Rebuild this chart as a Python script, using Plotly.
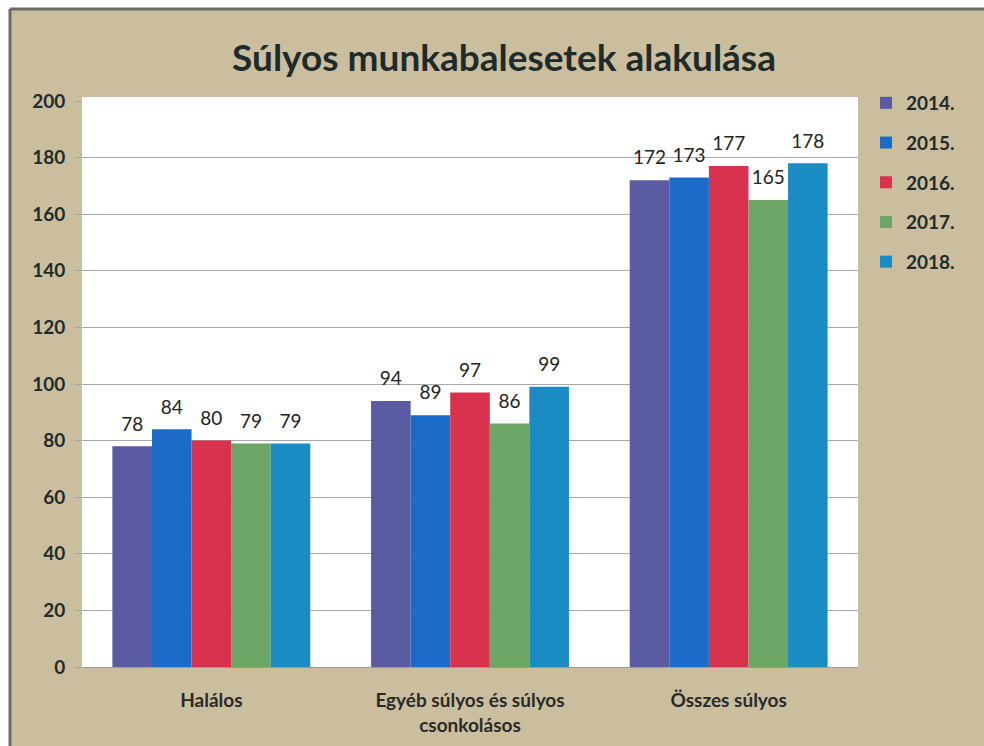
import plotly.graph_objects as go

categories = ["Halálos", "Egyéb súlyos és súlyos<br>csonkolásos", "Összes súlyos"]
years = ["2014.", "2015.", "2016.", "2017.", "2018."]
values = {
    "2014.": [78, 94, 172],
    "2015.": [84, 89, 173],
    "2016.": [80, 97, 177],
    "2017.": [79, 86, 165],
    "2018.": [79, 99, 178],
}
colors = ["#5b5ba3", "#1a6cc8", "#d8324e", "#6ba667", "#1a8cc3"]
yticks = [0, 20, 40, 60, 80, 100, 120, 140, 160, 180, 200]

FONT = "Lato"
GAP = 0.235
fig = go.Figure()
for i, y in enumerate(years):
    fig.add_trace(go.Bar(
        x=categories, y=values[y], name="<b>" + y + "</b>",
        marker=dict(color=colors[i], line=dict(width=0)),
        legendgroup=y,
    ))
for i, y in enumerate(years):
    fig.add_trace(go.Scatter(
        x=categories, y=values[y], mode="text+markers",
        marker=dict(size=16, opacity=0),
        text=[str(v) for v in values[y]], textposition="top center",
        textfont=dict(size=19, color="#222222", family=FONT),
        cliponaxis=False, showlegend=False, hoverinfo="skip",
    ))

L, R, T, B = 82, 858, 101, 667
pw, ph = R - L, B - T
def px(x):
    return (x - L) / pw
def py(y):
    return (B - y) / ph

fig.update_layout(
    width=984, height=746,
    margin=dict(l=L, r=984 - R, t=T, b=746 - B, autoexpand=False),
    paper_bgcolor="white", plot_bgcolor="rgba(0,0,0,0)",
    barmode="group", bargap=GAP, bargroupgap=0,
    scattermode="group", scattergap=GAP,
    title=dict(text="<b>Súlyos munkabalesetek alakulása</b>",
               font=dict(size=37, color="#1e2b2b", family=FONT),
               x=px(504), xanchor="center", y=1 - 58 / 746, yanchor="middle", xref="paper"),
    legend=dict(x=px(866), y=py(84), xanchor="left", yanchor="top",
                font=dict(size=19, color="#1e2b2b", family=FONT),
                bgcolor="rgba(0,0,0,0)", tracegroupgap=12, traceorder="grouped",
                itemwidth=30),
    shapes=[
        dict(type="rect", xref="paper", yref="paper", layer="below",
             x0=px(10), x1=px(984), y0=py(746), y1=py(9),
             fillcolor="#cbbe9f", line=dict(width=0)),
        dict(type="line", xref="paper", yref="paper", layer="below",
             x0=px(10), x1=px(984), y0=py(9), y1=py(9),
             line=dict(color="#6b6b66", width=3)),
        dict(type="line", xref="paper", yref="paper", layer="below",
             x0=px(10), x1=px(10), y0=py(9), y1=py(746),
             line=dict(color="#6b6b66", width=3)),
        dict(type="rect", xref="paper", yref="paper", layer="below",
             x0=0, x1=1, y0=0, y1=py(97),
             fillcolor="white", line=dict(width=0)),
    ],
    showlegend=True,
)
fig.update_xaxes(showgrid=False, showline=True, linecolor="#9a9a9a", linewidth=1,
                 tickfont=dict(size=19, color="#2a2a2a", family=FONT),
                 ticklabelstandoff=16, ticks="", automargin=False,
                 tickvals=categories, ticktext=["<b>" + c + "</b>" for c in categories])
fig.update_yaxes(range=[0, 200], tickvals=yticks, ticktext=["<b>%d</b>" % v for v in yticks],
                 showgrid=True, gridcolor="#a8a8a8",
                 gridwidth=1, ticks="outside", ticklen=6, tickcolor="#a8a8a8",
                 tickfont=dict(size=19, color="#1e2b2b", family=FONT),
                 ticklabelstandoff=6, zeroline=False, showline=False, automargin=False)

fig.write_html("out.html", config={"displayModeBar": False},
               post_script="document.body.style.margin='0';document.body.style.overflow='hidden';")
